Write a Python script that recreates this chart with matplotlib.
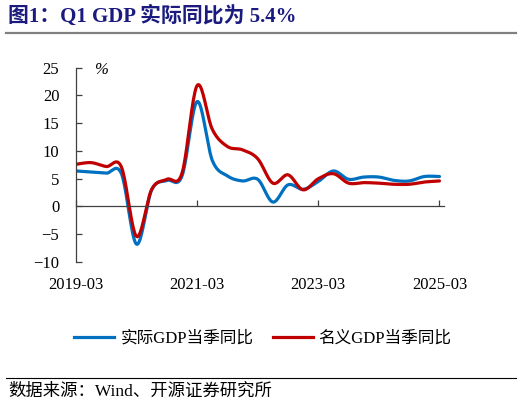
import matplotlib
matplotlib.use("Agg")
import matplotlib.pyplot as plt
import numpy as np
from matplotlib.lines import Line2D

# 季度数据（%）
quarters = ["2019-03", "2019-06", "2019-09", "2019-12",
            "2020-03", "2020-06", "2020-09", "2020-12",
            "2021-03", "2021-06", "2021-09", "2021-12",
            "2022-03", "2022-06", "2022-09", "2022-12",
            "2023-03", "2023-06", "2023-09", "2023-12",
            "2024-03", "2024-06", "2024-09", "2024-12",
            "2025-03"]
real_gdp = [6.4, 6.2, 6.0, 5.9, -6.8, 3.0, 4.7, 5.5,
            18.9, 8.3, 5.5, 4.6, 4.9, 0.8, 3.9, 3.1,
            4.5, 6.4, 4.9, 5.3, 5.3, 4.7, 4.6, 5.4, 5.4]
nominal_gdp = [7.6, 7.9, 7.2, 7.1, -5.4, 3.1, 4.9, 6.0,
               21.8, 13.9, 10.8, 10.2, 8.6, 4.2, 5.7, 3.0,
               5.0, 5.9, 4.2, 4.3, 4.2, 4.0, 4.0, 4.4, 4.6]
tick_labels = ["2019-03", "2021-03", "2023-03", "2025-03"]

serif = ["Liberation Serif", "Noto Sans CJK SC"]
plt.rcParams["font.family"] = serif


def smooth(x, y, n=20):
    # Excel 风格平滑线（Catmull-Rom）
    x = np.asarray(x, float)
    y = np.asarray(y, float)
    px = np.concatenate([[x[0]], x, [x[-1]]])
    py = np.concatenate([[y[0]], y, [y[-1]]])
    xs, ys = [], []
    t = np.linspace(0, 1, n, endpoint=False)
    for i in range(1, len(px) - 2):
        p0, p1, p2, p3 = py[i - 1], py[i], py[i + 1], py[i + 2]
        q0, q1, q2, q3 = px[i - 1], px[i], px[i + 1], px[i + 2]
        c1y, c2y = p1 + (p2 - p0) / 6, p2 - (p3 - p1) / 6
        c1x, c2x = q1 + (q2 - q0) / 6, q2 - (q3 - q1) / 6
        b0, b1, b2, b3 = (1 - t) ** 3, 3 * t * (1 - t) ** 2, 3 * t ** 2 * (1 - t), t ** 3
        xs.append(b0 * q1 + b1 * c1x + b2 * c2x + b3 * q2)
        ys.append(b0 * p1 + b1 * c1y + b2 * c2y + b3 * p2)
    xs.append([x[-1]])
    ys.append([y[-1]])
    return np.concatenate(xs), np.concatenate(ys)


fig = plt.figure(figsize=(5.22, 4.08), dpi=100)
ax = fig.add_axes([76 / 522, 1 - 262 / 408, (444 - 76) / 522, (262 - 67.7) / 408])

x = np.arange(len(quarters))
blue = "#0070C0"
red = "#C00000"
sx, sy = smooth(x, real_gdp)
ax.plot(sx, sy, color=blue, lw=2.3, solid_capstyle="round")
sx, sy = smooth(x, nominal_gdp)
ax.plot(sx, sy, color=red, lw=2.3, solid_capstyle="round")

ax.set_xlim(0, 24.3)
ax.set_ylim(-10, 25)
ax.set_yticks(range(-10, 26, 5))
ax.set_xticks([quarters.index(q) for q in tick_labels])
ax.set_xticklabels(tick_labels)

for s in ["top", "right"]:
    ax.spines[s].set_visible(False)
ax.spines["bottom"].set_position(("data", 0))
for s in ["left", "bottom"]:
    ax.spines[s].set_color("#404040")
    ax.spines[s].set_linewidth(0.9)
ax.tick_params(axis="y", direction="in", length=4, width=0.9, color="#404040",
               labelsize=12, pad=12)
ax.tick_params(axis="x", direction="in", length=4, width=0.9, color="#404040",
               labelsize=12, pad=51)
ax.text(0.068, 0.99, "%", transform=ax.transAxes, fontsize=12, style="italic",
        va="center", ha="center")

# 标题
fig.text(8 / 522, 1 - 16 / 408, "图1：Q1 GDP 实际同比为 5.4%", fontsize=15,
         fontweight="bold", color="#1B1B7F", va="center", ha="left")
fig.add_artist(Line2D([6 / 522, 516 / 522], [1 - 33 / 408] * 2, color="#808080", lw=1.6))

# 图例
handles = [Line2D([], [], color=blue, lw=2.3), Line2D([], [], color=red, lw=2.3)]
fig.legend(handles, ["实际GDP当季同比", "名义GDP当季同比"], loc="center",
           bbox_to_anchor=(263 / 522, 1 - 339 / 408), ncol=2, frameon=False,
           fontsize=12, handlelength=2.4, handletextpad=0.36, columnspacing=1.15)

# 数据来源
fig.add_artist(Line2D([6 / 522, 516 / 522], [1 - 378 / 408] * 2, color="black", lw=0.8))
fig.text(8 / 522, 1 - 392 / 408, "数据来源：Wind、开源证券研究所", fontsize=12.5,
         va="center", ha="left")

fig.savefig("out.png", dpi=100)
